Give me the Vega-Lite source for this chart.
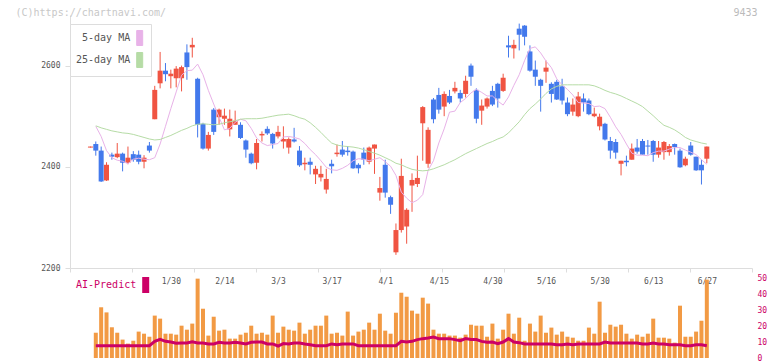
{
"$schema": "https://vega.github.io/schema/vega-lite/v6.json",
"width": 682, "height": 343,
"autosize": {"type": "none"},
"padding": {"left": 70, "top": 15, "right": 20, "bottom": 3},
"background": "white",
"config": {"view": {"stroke": null}, "font": "DejaVu Sans Mono", "axis": {"grid": false}},
"data": {"values": [
{"t":-1,"o":2438,"h":2440,"l":2438,"c":2440},
{"t":0,"o":2445,"h":2450,"l":2422,"c":2432,"m5":2480,"m25":2481,"v":15.8,"ai":7.7},
{"t":1,"o":2432,"h":2440,"l":2370,"c":2371,"m5":2460,"m25":2477,"v":31.7,"ai":7.7},
{"t":2,"o":2373,"h":2409,"l":2372,"c":2404,"m5":2432,"m25":2474,"v":28.5,"ai":7.7},
{"t":3,"o":2424,"h":2428,"l":2414,"c":2420,"m5":2418,"m25":2471,"v":19.2,"ai":7.7},
{"t":4,"o":2419,"h":2447,"l":2417,"c":2426,"m5":2413,"m25":2469,"v":15.8,"ai":7.7},
{"t":5,"o":2426,"h":2428,"l":2391,"c":2408,"m5":2411,"m25":2467,"v":11.5,"ai":7.7},
{"t":6,"o":2408,"h":2440,"l":2405,"c":2418,"m5":2406,"m25":2466,"v":9,"ai":7.7},
{"t":7,"o":2425,"h":2431,"l":2410,"c":2414,"m5":2415,"m25":2464,"v":10.8,"ai":7.7},
{"t":8,"o":2424,"h":2432,"l":2405,"c":2410,"m5":2417,"m25":2461,"v":16.5,"ai":7.7},
{"t":9,"o":2410,"h":2423,"l":2397,"c":2418,"m5":2415,"m25":2458,"v":15.2,"ai":7.7},
{"t":10,"o":2442,"h":2449,"l":2428,"c":2432,"m5":2414,"m25":2455,"v":13.3,"ai":7.7},
{"t":11,"o":2494,"h":2560,"l":2494,"c":2552,"m5":2418,"m25":2453,"v":26.5,"ai":10.4},
{"t":12,"o":2565,"h":2627,"l":2555,"c":2590,"m5":2445,"m25":2454,"v":24.6,"ai":11.7},
{"t":13,"o":2590,"h":2605,"l":2569,"c":2583,"m5":2480,"m25":2458,"v":15.2,"ai":10.4},
{"t":14,"o":2579,"h":2592,"l":2555,"c":2584,"m5":2515,"m25":2462,"v":15.2,"ai":10},
{"t":15,"o":2575,"h":2599,"l":2557,"c":2594,"m5":2548,"m25":2467,"v":14.6,"ai":9.2},
{"t":16,"o":2575,"h":2600,"l":2549,"c":2597,"m5":2581,"m25":2472,"v":20.2,"ai":9.4},
{"t":17,"o":2626,"h":2642,"l":2572,"c":2597,"m5":2590,"m25":2476,"v":17.7,"ai":9.4},
{"t":18,"o":2636,"h":2655,"l":2616,"c":2641,"m5":2591,"m25":2481,"v":21.5,"ai":10.2},
{"t":19,"o":2574,"h":2576,"l":2458,"c":2483,"m5":2603,"m25":2484,"v":49.6,"ai":9.4},
{"t":20,"o":2485,"h":2487,"l":2434,"c":2436,"m5":2582,"m25":2485,"v":30.8,"ai":9.4},
{"t":21,"o":2436,"h":2469,"l":2432,"c":2463,"m5":2551,"m25":2484,"v":14,"ai":8.8},
{"t":22,"o":2513,"h":2516,"l":2463,"c":2469,"m5":2524,"m25":2483,"v":25.8,"ai":8.8},
{"t":23,"o":2498,"h":2515,"l":2483,"c":2513,"m5":2498,"m25":2484,"v":17.1,"ai":9.8},
{"t":24,"o":2495,"h":2515,"l":2483,"c":2501,"m5":2473,"m25":2487,"v":17.7,"ai":9.4},
{"t":25,"o":2474,"h":2513,"l":2460,"c":2495,"m5":2476,"m25":2489,"v":12.1,"ai":9.4},
{"t":26,"o":2483,"h":2511,"l":2483,"c":2491,"m5":2488,"m25":2491,"v":12.1,"ai":9.8},
{"t":27,"o":2483,"h":2488,"l":2455,"c":2457,"m5":2494,"m25":2494,"v":14.6,"ai":9.4},
{"t":28,"o":2452,"h":2454,"l":2418,"c":2434,"m5":2491,"m25":2495,"v":15.8,"ai":8.8},
{"t":29,"o":2426,"h":2428,"l":2405,"c":2407,"m5":2476,"m25":2495,"v":20.2,"ai":9.8},
{"t":30,"o":2408,"h":2455,"l":2395,"c":2447,"m5":2457,"m25":2495,"v":15.2,"ai":10},
{"t":31,"o":2462,"h":2470,"l":2450,"c":2465,"m5":2447,"m25":2496,"v":15.8,"ai":10},
{"t":32,"o":2475,"h":2480,"l":2463,"c":2466,"m5":2442,"m25":2498,"v":14.6,"ai":8.8},
{"t":33,"o":2465,"h":2467,"l":2436,"c":2446,"m5":2444,"m25":2500,"v":26.5,"ai":8.8},
{"t":34,"o":2460,"h":2481,"l":2456,"c":2469,"m5":2446,"m25":2502,"v":15.8,"ai":7.5},
{"t":35,"o":2450,"h":2480,"l":2436,"c":2455,"m5":2459,"m25":2503,"v":19.6,"ai":9},
{"t":36,"o":2438,"h":2458,"l":2426,"c":2455,"m5":2460,"m25":2504,"v":17.7,"ai":8.8},
{"t":37,"o":2454,"h":2477,"l":2448,"c":2450,"m5":2458,"m25":2501,"v":17.1,"ai":9.4},
{"t":38,"o":2432,"h":2441,"l":2400,"c":2403,"m5":2455,"m25":2497,"v":22.1,"ai":9.4},
{"t":39,"o":2405,"h":2418,"l":2393,"c":2408,"m5":2446,"m25":2494,"v":15.2,"ai":8.8},
{"t":40,"o":2410,"h":2418,"l":2385,"c":2404,"m5":2434,"m25":2487,"v":17.7,"ai":8.3},
{"t":41,"o":2385,"h":2402,"l":2366,"c":2396,"m5":2424,"m25":2478,"v":20.2,"ai":7.7},
{"t":42,"o":2379,"h":2402,"l":2371,"c":2386,"m5":2412,"m25":2468,"v":20.2,"ai":7.7},
{"t":43,"o":2355,"h":2396,"l":2347,"c":2376,"m5":2399,"m25":2457,"v":26.5,"ai":7.7},
{"t":44,"o":2406,"h":2414,"l":2387,"c":2401,"m5":2394,"m25":2447,"v":15.2,"ai":8.8},
{"t":45,"o":2425,"h":2444,"l":2420,"c":2428,"m5":2393,"m25":2443,"v":15.8,"ai":8.3},
{"t":46,"o":2434,"h":2451,"l":2420,"c":2424,"m5":2397,"m25":2441,"v":14,"ai":8.8},
{"t":47,"o":2432,"h":2441,"l":2422,"c":2429,"m5":2403,"m25":2440,"v":29,"ai":8.8},
{"t":48,"o":2430,"h":2432,"l":2396,"c":2397,"m5":2412,"m25":2439,"v":14,"ai":8.8},
{"t":49,"o":2404,"h":2407,"l":2387,"c":2397,"m5":2416,"m25":2437,"v":16.5,"ai":7.7},
{"t":50,"o":2428,"h":2438,"l":2404,"c":2414,"m5":2415,"m25":2434,"v":17.7,"ai":7.7},
{"t":51,"o":2410,"h":2440,"l":2405,"c":2438,"m5":2412,"m25":2430,"v":22.1,"ai":7.7},
{"t":52,"o":2436,"h":2444,"l":2386,"c":2444,"m5":2415,"m25":2427,"v":17.7,"ai":7.7},
{"t":53,"o":2349,"h":2380,"l":2333,"c":2358,"m5":2418,"m25":2423,"v":27.7,"ai":7.7},
{"t":54,"o":2404,"h":2414,"l":2339,"c":2349,"m5":2410,"m25":2418,"v":17.1,"ai":7.7},
{"t":55,"o":2340,"h":2343,"l":2307,"c":2325,"m5":2401,"m25":2413,"v":15.2,"ai":7.7},
{"t":56,"o":2231,"h":2288,"l":2226,"c":2275,"m5":2383,"m25":2407,"v":28.3,"ai":7.7},
{"t":57,"o":2275,"h":2416,"l":2270,"c":2382,"m5":2350,"m25":2404,"v":40.8,"ai":10.4},
{"t":58,"o":2282,"h":2318,"l":2248,"c":2315,"m5":2338,"m25":2399,"v":38.3,"ai":10},
{"t":59,"o":2363,"h":2387,"l":2311,"c":2374,"m5":2329,"m25":2395,"v":29.6,"ai":10.4},
{"t":60,"o":2366,"h":2422,"l":2360,"c":2378,"m5":2334,"m25":2393,"v":27.7,"ai":11.5},
{"t":61,"o":2486,"h":2520,"l":2412,"c":2518,"m5":2345,"m25":2392,"v":37.7,"ai":12.1},
{"t":62,"o":2406,"h":2478,"l":2398,"c":2473,"m5":2393,"m25":2393,"v":34,"ai":12.5},
{"t":63,"o":2533,"h":2536,"l":2486,"c":2494,"m5":2412,"m25":2396,"v":17.7,"ai":13.1},
{"t":64,"o":2542,"h":2556,"l":2505,"c":2513,"m5":2447,"m25":2400,"v":15.2,"ai":12.1},
{"t":65,"o":2519,"h":2549,"l":2500,"c":2544,"m5":2475,"m25":2404,"v":15.2,"ai":12.1},
{"t":66,"o":2540,"h":2552,"l":2524,"c":2527,"m5":2508,"m25":2409,"v":14,"ai":12.1},
{"t":67,"o":2549,"h":2568,"l":2545,"c":2556,"m5":2510,"m25":2414,"v":14,"ai":11.5},
{"t":68,"o":2546,"h":2552,"l":2527,"c":2535,"m5":2527,"m25":2420,"v":12.7,"ai":10.8},
{"t":69,"o":2544,"h":2580,"l":2537,"c":2570,"m5":2535,"m25":2426,"v":14.6,"ai":12.1},
{"t":70,"o":2600,"h":2604,"l":2560,"c":2578,"m5":2546,"m25":2431,"v":20.8,"ai":11.5},
{"t":71,"o":2552,"h":2555,"l":2486,"c":2495,"m5":2553,"m25":2436,"v":20.2,"ai":11.5},
{"t":72,"o":2511,"h":2533,"l":2483,"c":2521,"m5":2547,"m25":2441,"v":20.2,"ai":10.4},
{"t":73,"o":2519,"h":2537,"l":2515,"c":2535,"m5":2540,"m25":2446,"v":13.3,"ai":9.8},
{"t":74,"o":2550,"h":2560,"l":2520,"c":2523,"m5":2540,"m25":2450,"v":21.5,"ai":10},
{"t":75,"o":2564,"h":2566,"l":2517,"c":2535,"m5":2530,"m25":2455,"v":12.1,"ai":9},
{"t":76,"o":2550,"h":2584,"l":2548,"c":2576,"m5":2522,"m25":2459,"v":17.7,"ai":10},
{"t":77,"o":2640,"h":2659,"l":2616,"c":2636,"m5":2538,"m25":2467,"v":27.7,"ai":12.1},
{"t":78,"o":2634,"h":2651,"l":2614,"c":2641,"m5":2561,"m25":2478,"v":15.2,"ai":10},
{"t":79,"o":2673,"h":2683,"l":2630,"c":2661,"m5":2582,"m25":2489,"v":25.2,"ai":9.6},
{"t":80,"o":2679,"h":2680,"l":2640,"c":2657,"m5":2610,"m25":2503,"v":10.8,"ai":8.8},
{"t":81,"o":2628,"h":2640,"l":2588,"c":2590,"m5":2634,"m25":2515,"v":21.5,"ai":8.8},
{"t":82,"o":2592,"h":2610,"l":2560,"c":2578,"m5":2637,"m25":2524,"v":16.5,"ai":8.8},
{"t":83,"o":2572,"h":2574,"l":2509,"c":2560,"m5":2625,"m25":2534,"v":26.5,"ai":8.8},
{"t":84,"o":2588,"h":2610,"l":2566,"c":2596,"m5":2609,"m25":2545,"v":15.8,"ai":8.8},
{"t":85,"o":2564,"h":2567,"l":2527,"c":2544,"m5":2596,"m25":2554,"v":19,"ai":8.8},
{"t":86,"o":2568,"h":2572,"l":2532,"c":2533,"m5":2574,"m25":2559,"v":14.6,"ai":8.3},
{"t":87,"o":2559,"h":2574,"l":2523,"c":2531,"m5":2562,"m25":2562,"v":16.5,"ai":8.3},
{"t":88,"o":2527,"h":2537,"l":2500,"c":2504,"m5":2553,"m25":2562,"v":13.3,"ai":8.8},
{"t":89,"o":2509,"h":2535,"l":2501,"c":2523,"m5":2542,"m25":2562,"v":12.7,"ai":8.3},
{"t":90,"o":2500,"h":2548,"l":2498,"c":2539,"m5":2527,"m25":2562,"v":10.8,"ai":8.8},
{"t":91,"o":2535,"h":2545,"l":2509,"c":2527,"m5":2526,"m25":2562,"v":10.8,"ai":8.8},
{"t":92,"o":2531,"h":2535,"l":2502,"c":2504,"m5":2525,"m25":2562,"v":19,"ai":8.8},
{"t":93,"o":2500,"h":2517,"l":2498,"c":2505,"m5":2519,"m25":2560,"v":15.2,"ai":8.8},
{"t":94,"o":2480,"h":2505,"l":2472,"c":2499,"m5":2520,"m25":2556,"v":35.2,"ai":8.8},
{"t":95,"o":2485,"h":2487,"l":2452,"c":2454,"m5":2515,"m25":2551,"v":15.8,"ai":10},
{"t":96,"o":2451,"h":2459,"l":2416,"c":2432,"m5":2498,"m25":2547,"v":20.8,"ai":9.4},
{"t":97,"o":2449,"h":2455,"l":2416,"c":2428,"m5":2479,"m25":2544,"v":19.6,"ai":9.4},
{"t":98,"o":2406,"h":2412,"l":2383,"c":2412,"m5":2464,"m25":2540,"v":20.8,"ai":9.4},
{"t":99,"o":2412,"h":2422,"l":2401,"c":2409,"m5":2445,"m25":2535,"v":15.2,"ai":9.4},
{"t":100,"o":2414,"h":2446,"l":2414,"c":2436,"m5":2427,"m25":2530,"v":12.1,"ai":9.4},
{"t":101,"o":2438,"h":2455,"l":2426,"c":2430,"m5":2423,"m25":2525,"v":14.6,"ai":9.4},
{"t":102,"o":2451,"h":2455,"l":2424,"c":2424,"m5":2423,"m25":2519,"v":13.3,"ai":8.8},
{"t":103,"o":2442,"h":2453,"l":2424,"c":2440,"m5":2422,"m25":2510,"v":15.2,"ai":8.8},
{"t":104,"o":2451,"h":2453,"l":2410,"c":2424,"m5":2428,"m25":2501,"v":24.6,"ai":9.4},
{"t":105,"o":2424,"h":2451,"l":2418,"c":2438,"m5":2431,"m25":2491,"v":12.7,"ai":8.8},
{"t":106,"o":2429,"h":2451,"l":2414,"c":2449,"m5":2431,"m25":2482,"v":12.7,"ai":8.8},
{"t":107,"o":2429,"h":2445,"l":2422,"c":2441,"m5":2435,"m25":2478,"v":12.1,"ai":8.3},
{"t":108,"o":2445,"h":2446,"l":2424,"c":2439,"m5":2438,"m25":2473,"v":9.6,"ai":8.3},
{"t":109,"o":2432,"h":2436,"l":2398,"c":2399,"m5":2438,"m25":2466,"v":32.7,"ai":8.3},
{"t":110,"o":2403,"h":2420,"l":2401,"c":2416,"m5":2433,"m25":2458,"v":13.3,"ai":7.7},
{"t":111,"o":2442,"h":2449,"l":2422,"c":2424,"m5":2429,"m25":2453,"v":13.3,"ai":7.7},
{"t":112,"o":2420,"h":2420,"l":2392,"c":2393,"m5":2424,"m25":2450,"v":16.5,"ai":8.3},
{"t":113,"o":2404,"h":2414,"l":2365,"c":2393,"m5":2414,"m25":2447,"v":23.3,"ai":8.3},
{"t":114,"o":2416,"h":2440,"l":2407,"c":2440,"m5":2405,"m25":2445,"v":49,"ai":7.7}
]},
"layer": [
{
"layer": [
{
"mark": {"type": "rule", "strokeWidth": 1},
"encoding": {
"x": {"field": "t", "type": "quantitative",
 "scale": {"domain": [-4.813, 122.43], "nice": false, "zero": false, "padding": 0},
 "axis": {"orient": "bottom", "offset": -90, "title": null,
  "values": [-4.813, 6.754, 18.321, 29.888, 41.455, 53.022, 64.589, 76.156, 87.723, 99.29, 110.857, 122.424],
  "labels": false, "domainColor": "#dddddd", "domainWidth": 1,
  "tickColor": "#dddddd", "tickSize": 4, "tickWidth": 1}},
"y": {"field": "l", "type": "quantitative",
 "scale": {"domain": [2200, 2700], "range": [253, 0], "nice": false, "zero": false},
 "axis": {
  "values": [2200, 2400, 2600], "format": "d",
  "domainColor": "#dddddd", "tickColor": "#dddddd", "tickSize": 5,
  "labelFont": "DejaVu Sans Mono", "labelFontSize": 8, "labelColor": "#555555", "labelPadding": 5,
  "title": "(C)https://chartnavi.com/", "titleAngle": 0, "titleX": -55, "titleY": -3,
  "titleAlign": "left", "titleBaseline": "middle", "titleColor": "#c8c8c8",
  "titleFont": "DejaVu Sans Mono", "titleFontSize": 10, "titleFontWeight": "normal"
 }},
"y2": {"field": "h"},
"color": {"condition": {"test": "datum.c > datum.o", "value": "#f05442"}, "value": "#4379ec"}
}
},
{
"mark": {"type": "bar", "size": 5},
"encoding": {
"x": {"field": "t", "type": "quantitative",
 "axis": {"orient": "bottom", "offset": -90, "title": null,
  "values": [-4.813, 6.754, 18.321, 29.888, 41.455, 53.022, 64.589, 76.156, 87.723, 99.29, 110.857, 122.424],
  "labels": false, "domainColor": "#dddddd", "domainWidth": 1,
  "tickColor": "#dddddd", "tickSize": 4, "tickWidth": 1}},
"y": {"field": "o", "type": "quantitative", "axis": {"title": "(C)https://chartnavi.com/"}},
"y2": {"field": "c"},
"color": {"condition": {"test": "datum.c > datum.o", "value": "#f05442"}, "value": "#4379ec"}
}
},
{
"transform": [{"fold": ["m5", "m25"], "as": ["series", "ma"]}],
"mark": {"type": "line", "strokeWidth": 1},
"encoding": {
"x": {"field": "t", "type": "quantitative",
 "axis": {"orient": "bottom", "offset": -90, "title": null,
  "values": [-4.813, 6.754, 18.321, 29.888, 41.455, 53.022, 64.589, 76.156, 87.723, 99.29, 110.857, 122.424],
  "labels": false, "domainColor": "#dddddd", "domainWidth": 1,
  "tickColor": "#dddddd", "tickSize": 4, "tickWidth": 1}},
"y": {"field": "ma", "type": "quantitative", "axis": {"title": "(C)https://chartnavi.com/"}},
"color": {"field": "series", "type": "nominal",
 "scale": {"domain": ["m5", "m25"], "range": ["#e8b2e8", "#b6dca6"]},
 "legend": {
  "orient": "none", "legendX": 0, "legendY": 9, "title": null, "direction": "vertical",
  "fillColor": "white", "strokeColor": "#dddddd", "padding": 6, "rowPadding": 2,
  "symbolType": "M-0.4,-1H0.4V1H-0.4Z", "symbolSize": 225, "symbolStrokeWidth": 1,
  "symbolStrokeColor": "#555555",
  "labelFont": "DejaVu Sans Mono", "labelFontSize": 10, "labelColor": "#555555",
  "labelExpr": "datum.label === 'm5' ? '5-day MA' : '25-day MA'",
  "encode": {
   "symbols": {"update": {"x": {"value": 63.7}, "fill": {"scale": "color", "field": "value"}, "stroke": {"value": "#555555"}, "fillOpacity": {"value": 1}, "strokeWidth": {"value": 1}}},
   "labels": {"update": {"x": {"value": 54.2}, "align": {"value": "right"}}}
  }
 }}
}
}
]
},
{
"layer": [
{
"mark": {"type": "bar", "size": 4, "color": "#f29a44"},
"encoding": {
"x": {"field": "t", "type": "quantitative",
 "axis": {"orient": "bottom", "offset": -90, "title": null,
  "values": [14, 24, 34, 44, 54, 64, 74, 84, 94, 104, 114],
  "labelExpr": "['1/30','2/14','3/3','3/17','4/1','4/15','4/30','5/16','5/30','6/13','6/27'][round((datum.value - 14) / 10)]",
  "domain": false, "ticks": false, "labelPadding": 9,
  "labelFont": "DejaVu Sans Mono", "labelFontSize": 8, "labelColor": "#555555",
  "labelOverlap": false, "labelFlush": false, "labelBound": false}},
"y": {"field": "v", "type": "quantitative",
 "scale": {"domain": [0, 50], "range": [343, 263], "nice": false},
 "axis": {
  "orient": "right", "values": [0, 10, 20, 30, 40, 50],
  "domain": false, "ticks": false, "labelPadding": 5,
  "labelFont": "DejaVu Sans Mono", "labelFontSize": 8, "labelColor": "#cc0066",
  "title": "9433", "titleAngle": 0, "titleX": 5, "titleY": -3,
  "titleAlign": "right", "titleBaseline": "middle", "titleColor": "#bbbbbb",
  "titleFont": "DejaVu Sans Mono", "titleFontSize": 10, "titleFontWeight": "normal"
 }}
}
},
{
"mark": {"type": "line", "strokeWidth": 3},
"encoding": {
"x": {"field": "t", "type": "quantitative",
 "axis": {"orient": "bottom", "offset": -90, "title": null,
  "values": [14, 24, 34, 44, 54, 64, 74, 84, 94, 104, 114],
  "labelExpr": "['1/30','2/14','3/3','3/17','4/1','4/15','4/30','5/16','5/30','6/13','6/27'][round((datum.value - 14) / 10)]",
  "domain": false, "ticks": false, "labelPadding": 9,
  "labelFont": "DejaVu Sans Mono", "labelFontSize": 8, "labelColor": "#555555",
  "labelOverlap": false, "labelFlush": false, "labelBound": false}},
"y": {"field": "ai", "type": "quantitative", "axis": {"orient": "right", "title": "9433"}},
"stroke": {"datum": "AI-Predict", "type": "nominal",
 "scale": {"domain": ["AI-Predict"], "range": ["#cc0066"]},
 "legend": {
  "orient": "none", "legendX": 6, "legendY": 262, "title": null, "padding": 0,
  "symbolType": "M-0.4375,-1H0.4375V1H-0.4375Z", "symbolSize": 256, "symbolStrokeWidth": 0,
  "labelFont": "DejaVu Sans Mono", "labelFontSize": 10, "labelColor": "#cc0066",
  "encode": {
   "symbols": {"update": {"x": {"value": 69.7}, "fill": {"value": "#cc0066"}, "fillOpacity": {"value": 1}, "strokeWidth": {"value": 0}}},
   "labels": {"update": {"x": {"value": 0}, "align": {"value": "left"}}}
  }
 }}
}
}
]
}
],
"resolve": {"scale": {"y": "independent"}, "axis": {"x": "independent"}}
}
